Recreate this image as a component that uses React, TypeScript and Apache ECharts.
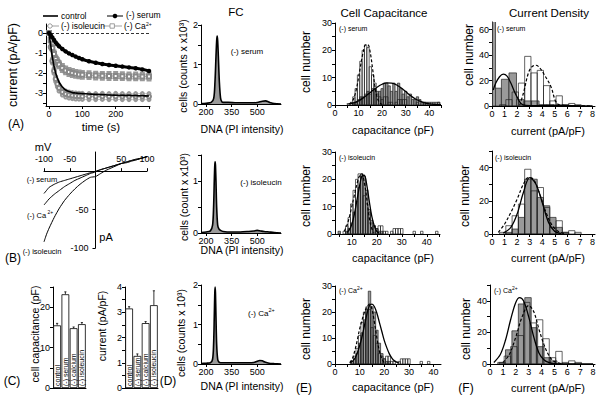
import React, { useEffect, useRef } from 'react';
import * as echarts from 'echarts';

const FONT = '"Liberation Sans", Arial, Helvetica, sans-serif';

// ---------- Panel A: current vs time ----------
const timeS = [0, 5, 10, 15, 20, 25, 30, 40, 50, 60, 70, 80, 90, 100, 120, 140, 160, 180, 200, 220, 240, 260, 280, 300];
const ctrlTrace = [0, -0.6, -1.2, -1.65, -2.0, -2.25, -2.45, -2.7, -2.85, -2.93, -2.98, -3.0, -3.02, -3.03, -3.05, -3.07, -3.08, -3.1, -3.11, -3.12, -3.12, -3.13, -3.14, -3.15];
const serumTrace = [0, -0.1, -0.22, -0.35, -0.47, -0.57, -0.66, -0.8, -0.92, -1.02, -1.1, -1.18, -1.25, -1.31, -1.41, -1.49, -1.55, -1.6, -1.64, -1.68, -1.72, -1.76, -1.82, -1.9];
const isoTrace = [0, -0.7, -1.4, -1.9, -2.3, -2.55, -2.75, -2.95, -3.05, -3.1, -3.13, -3.15, -3.16, -3.17, -3.18, -3.18, -3.17, -3.18, -3.17, -3.18, -3.18, -3.18, -3.18, -3.18];
const caTrace = [0, -0.35, -0.75, -1.05, -1.3, -1.45, -1.58, -1.75, -1.87, -1.95, -2.0, -2.04, -2.07, -2.09, -2.11, -2.13, -2.14, -2.15, -2.15, -2.16, -2.17, -2.17, -2.17, -2.18];
const isoSem = [0, 0.06, 0.1, 0.12, 0.13, 0.14, 0.15, 0.15, 0.15, 0.15, 0.15, 0.15, 0.15, 0.15, 0.15, 0.15, 0.15, 0.15, 0.15, 0.15, 0.15, 0.15, 0.15, 0.15];
const caSem = [0, 0.05, 0.08, 0.1, 0.1, 0.11, 0.11, 0.12, 0.12, 0.12, 0.12, 0.12, 0.12, 0.12, 0.12, 0.12, 0.12, 0.12, 0.12, 0.12, 0.12, 0.12, 0.12, 0.12];

// ---------- Panel B: I-V ----------
const ivVoltage = [-100, -95, -90, -80, -70, -60, -50, -40, -30, -20, -10, 0, 10, 20, 30, 40, 50, 60, 70, 80, 90, 100];
const ivSerum = [-29, -25, -21, -17, -14, -12, -10, -8, -6, -4, -2, 0, 2, 4, 6, 8, 10, 11, 13, 15, 17, 19];
const ivCa = [-44, -40, -36, -30, -25, -20, -16, -12, -9, -6, -3, -1, 2, 4, 6, 8, 10, 12, 14, 15, 17, 19];
const ivIso = [-92, -82, -74, -60, -48, -38, -30, -23, -17, -12, -8, -7, -3, 1, 4, 7, 10, 12, 14, 16, 17, 19];
const ivXLabels = [-100, -50, 50, 100];

// ---------- Panel C ----------
const groupNames = ['control', '(-) serum', '(-) calcium', '(-) isoleucin'];
const capMean = [15.5, 23.2, 14.8, 15.8];
const capErr = [0.5, 0.6, 0.3, 0.4];
const curMean = [3.15, 1.27, 2.57, 3.28];
const curErr = [0.07, 0.08, 0.06, 0.57];

// ---------- Panel D: FC ----------
const fcSerumX = [170, 200, 230, 245, 252, 258, 262, 265, 268, 272, 278, 285, 292, 300, 330, 380, 430, 470, 500, 530, 550, 565, 580, 600, 640];
const fcSerumY = [0.01, 0.02, 0.04, 0.15, 0.55, 1.2, 1.6, 1.72, 1.6, 1.2, 0.55, 0.15, 0.06, 0.04, 0.04, 0.03, 0.03, 0.03, 0.04, 0.07, 0.08, 0.06, 0.03, 0.01, 0];
const fcIsoX = [170, 200, 225, 238, 244, 248, 251, 253, 255, 258, 262, 268, 275, 285, 300, 350, 400, 450, 480, 500, 520, 540, 570, 600, 640];
const fcIsoY = [0.01, 0.02, 0.04, 0.15, 0.5, 1.0, 1.3, 1.37, 1.3, 1.0, 0.5, 0.15, 0.08, 0.05, 0.03, 0.02, 0.02, 0.03, 0.04, 0.05, 0.04, 0.03, 0.02, 0.01, 0];
const fcCaX = [170, 200, 225, 238, 244, 248, 251, 253, 255, 258, 262, 268, 275, 285, 300, 350, 400, 450, 480, 500, 515, 530, 545, 570, 600, 640];
const fcCaY = [0.01, 0.02, 0.03, 0.12, 0.5, 1.2, 1.8, 1.95, 1.8, 1.2, 0.5, 0.12, 0.05, 0.03, 0.03, 0.03, 0.03, 0.03, 0.04, 0.07, 0.09, 0.08, 0.05, 0.02, 0.01, 0];

// ---------- Panel E: capacitance histograms (1 pF bins, centres) ----------
const capBins = [5, 6, 7, 8, 9, 10, 11, 12, 13, 14, 15, 16, 17, 18, 19, 20, 21, 22, 23, 24, 25, 26, 27, 28, 29, 30, 31, 32, 33, 34, 35, 36, 37, 38, 39, 40, 41, 42, 43, 44];
const capControl = [0, 0, 1, 3, 6, 11, 16, 20, 22, 21, 14, 11, 8, 4, 3, 2, 3, 3, 1, 1, 0, 1, 2, 2, 2, 2, 0, 0, 0, 0, 1, 0, 0, 1, 0, 0, 0, 0, 0, 1];
const capSerum = [0, 0, 0, 1, 1, 2, 3, 3, 4, 5, 4, 6, 6, 5, 5, 6, 8, 8, 7, 5, 8, 5, 8, 6, 4, 5, 3, 4, 2, 2, 3, 2, 1, 1, 1, 1, 1, 1, 1, 1];
const capIso = [1, 0, 0, 1, 2, 4, 8, 12, 17, 22, 21, 16, 9, 5, 3, 2, 1, 1, 0, 0, 0, 0, 0, 0, 0, 0, 0, 0, 0, 0, 0, 0, 0, 0, 0, 0, 0, 0, 0, 0];
const capCa = [0, 0, 1, 2, 4, 8, 12, 17, 21, 28, 22, 20, 13, 8, 4, 2, 1, 1, 0, 0, 0, 0, 0, 0, 0, 0, 0, 0, 0, 0, 0, 0, 0, 0, 0, 0, 0, 0, 0, 0];
const fitCtrlE1X = [6, 7, 8, 9, 10, 11, 12, 13, 14, 15, 16, 17, 18, 19, 20];
const fitCtrlE1Y = [0.3, 1, 2.5, 5.5, 10, 15, 19.5, 22, 22, 19, 13, 6.5, 2.5, 0.8, 0.2];
const fitSerumEX = [5, 8, 10, 12, 14, 16, 18, 20, 22, 24, 26, 28, 30, 32, 34, 36, 38, 40, 42, 45];
const fitSerumEY = [0.3, 0.8, 1.5, 2.6, 3.9, 5.3, 6.6, 7.6, 8.1, 8.0, 7.4, 6.3, 4.9, 3.5, 2.3, 1.4, 0.8, 0.4, 0.2, 0.1];
const fitCtrlE2X = [7, 8, 9, 10, 11, 12, 13, 14, 15, 16, 17, 18, 19];
const fitCtrlE2Y = [1, 3, 6, 10, 14, 18, 21, 22, 19, 13, 6, 2, 0.5];
const fitIsoEX = [8, 9, 10, 11, 12, 13, 14, 15, 16, 17, 18, 19, 20, 21];
const fitIsoEY = [0.5, 1.5, 3.5, 7, 12, 17, 21, 21.5, 18, 12, 6.5, 3, 1, 0.3];
const fitCtrlE3X = [6, 7, 8, 9, 10, 11, 12, 13, 14, 15, 16, 17, 18, 19, 20];
const fitCtrlE3Y = [0.5, 2, 5, 9, 13.5, 17, 20, 22, 23, 21, 16, 10, 5, 2, 0.5];
const fitCaEX = [6, 8, 10, 12, 13, 14, 15, 16, 17, 18, 19, 20, 21, 22, 23, 24, 26];
const fitCaEY = [0.3, 2, 7, 15, 19.5, 22.5, 23, 22, 19.5, 16, 12.5, 9, 6.3, 4, 2.4, 1.3, 0.3];

// ---------- Panel F: current density histograms (0.5 pA/pF bins, left edges) ----------
const curBinLefts = [0.1, 0.6, 1.1, 1.6, 2.1, 2.6, 3.1, 3.6, 4.1, 4.6, 5.1, 5.6, 6.1, 6.6, 7.1];
const curControl = [0, 1, 5, 11, 18, 39, 26, 28, 16, 4, 8, 1, 2, 1, 0];
const curIso = [0, 0, 1, 3, 10, 33, 33, 22, 17, 10, 4, 1, 0, 0, 0];
const serumBinLefts = [0.15, 0.75, 1.35, 1.95, 2.55, 3.15, 3.75, 4.35];
const curSerum = [14, 21, 26, 5, 4, 4, 1, 1];
const serumZeroLeft = [0.03];
const serumZeroCount = [70];
const caBinLefts = [0.2, 0.7, 1.2, 1.7, 2.2, 2.7, 3.2, 3.7, 4.2, 4.7, 5.2];
const curCa = [0, 1, 9, 21, 38, 42, 23, 11, 4, 2, 0];
const fitSerumFX = [0.1, 0.3, 0.6, 0.9, 1.2, 1.5, 1.8, 2.0, 2.3, 2.7, 3.5, 4.5, 5.5, 6.5, 8];
const fitSerumFY = [12.6, 18, 23, 25, 23.5, 18, 11, 7, 2, 0.5, 0.3, 0.5, 0.6, 0.2, 0];
const fitCtrlF1X = [2.2, 2.5, 2.9, 3.2, 3.5, 3.8, 4.2, 4.7, 5.1, 5.5, 6, 7, 8];
const fitCtrlF1Y = [0.5, 10, 26, 31, 32, 30, 24, 15, 3, 0.5, 0.3, 0.1, 0];
const fitIsoFX = [0.9, 1.5, 2, 2.5, 3, 3.5, 4, 4.5, 5, 5.5];
const fitIsoFY = [0.5, 4, 12, 25, 34, 30, 19, 7, 1.5, 0.3];
const fitCtrlF2X = [0.5, 1, 1.5, 2, 2.5, 2.9, 3.3, 3.8, 4.3, 4.8, 5.3, 5.8];
const fitCtrlF2Y = [1, 6, 13, 21, 30, 34, 33, 24, 13, 5, 1.5, 0.3];
const fitCaFX = [0.3, 0.8, 1.2, 1.6, 2.0, 2.3, 2.6, 3.0, 3.4, 3.8, 4.2, 4.6, 5.0, 6, 8];
const fitCaFY = [1, 6, 15, 28, 39, 42, 40, 30, 17, 7, 2.5, 0.8, 0.2, 0, 0];
const fitCtrlF3X = [1, 1.5, 2, 2.5, 3, 3.4, 3.8, 4.2, 4.6, 5, 5.5];
const fitCtrlF3Y = [1, 6, 17, 30, 37, 33, 22, 12, 5, 1.5, 0.3];

// ---------- helpers ----------
const GRAY = '#9a9a9a';

function valAxis(gi: number, min: number, max: number, labels: number[], ticks: number[], extra: any = {}) {
  return {
    type: 'value', gridIndex: gi, min, max,
    axisLine: { show: true, onZero: false, lineStyle: { color: '#000', width: 1 } },
    axisTick: { show: true, length: 3, customValues: ticks, lineStyle: { color: '#000', width: 1 } },
    axisLabel: { show: true, customValues: labels, color: '#000', fontSize: 9, fontFamily: FONT, margin: 3, showMinLabel: true, showMaxLabel: true },
    splitLine: { show: false },
    ...extra,
  };
}

function catAxis(gi: number) {
  return {
    type: 'category', gridIndex: gi, data: groupNames,
    axisLine: { show: true, onZero: false, lineStyle: { color: '#000', width: 1 } },
    axisTick: { show: false }, axisLabel: { show: false }, splitLine: { show: false },
  };
}

function pairs(xs: number[], ys: number[]) {
  return xs.map((x, i) => [x, ys[i]]);
}

function curve(gi: number, xs: number[], ys: number[], o: any = {}) {
  return {
    type: 'line', xAxisIndex: gi, yAxisIndex: gi, data: pairs(xs, ys),
    symbol: 'none', smooth: o.smooth ?? 0.35, silent: true, clip: true, z: o.z ?? 5,
    lineStyle: { color: o.color || '#000', width: o.width ?? 1.3, type: o.dashed ? [3, 2] : 'solid' },
    areaStyle: o.area ? { color: o.area, opacity: 1 } : undefined,
  };
}

function hist(gi: number, lefts: number[], width: number, counts: number[], fill: string, z: number) {
  return {
    type: 'custom', xAxisIndex: gi, yAxisIndex: gi, z, clip: true, silent: true,
    data: lefts.map((l, i) => [l, counts[i], l + width]).filter((d) => d[1] > 0),
    encode: { x: [0, 2], y: 1 },
    renderItem: (params: any, api: any) => {
      const p0 = api.coord([api.value(0), 0]);
      const p1 = api.coord([api.value(2), api.value(1)]);
      return {
        type: 'rect',
        shape: { x: p0[0], y: p1[1], width: p1[0] - p0[0], height: p0[1] - p1[1] },
        style: { fill, stroke: '#222', lineWidth: 0.7 },
      };
    },
  };
}

function errBars(gi: number, means: number[], errs: number[]) {
  return {
    type: 'custom', xAxisIndex: gi, yAxisIndex: gi, z: 6, silent: true,
    data: means.map((m, i) => [i, m, m + errs[i]]),
    encode: { x: 0, y: [1, 2] },
    renderItem: (params: any, api: any) => {
      const i = api.value(0);
      const a = api.coord([i, api.value(1)]);
      const b = api.coord([i, api.value(2)]);
      const hw = api.size([1, 0])[0] * 0.13;
      return {
        type: 'group',
        children: [
          { type: 'line', shape: { x1: a[0], y1: a[1], x2: b[0], y2: b[1] }, style: { stroke: '#000', lineWidth: 0.8 } },
          { type: 'line', shape: { x1: b[0] - hw, y1: b[1], x2: b[0] + hw, y2: b[1] }, style: { stroke: '#000', lineWidth: 0.8 } },
        ],
      };
    },
  };
}

function txt(text: string, x: number, y: number, size: number, o: any = {}) {
  const align = o.align || 'center';
  const va = o.va || 'middle';
  return {
    type: 'text', x, y, rotation: o.rot ? Math.PI / 2 : 0, z: 100,
    style: {
      text, fill: '#000', font: `${size}px ${FONT}`, fontSize: size, fontFamily: FONT,
      align, verticalAlign: va, textAlign: align, textVerticalAlign: va,
    },
  };
}

export default function App() {
  const ref = useRef<HTMLDivElement>(null);

  useEffect(() => {
    if (!ref.current) return;
    const chart = echarts.init(ref.current, undefined, { renderer: 'svg' });

    const grids = [
      { left: 46, top: 24, width: 104, height: 82 },   // 0 A
      { left: 44, top: 152, width: 103, height: 96 },  // 1 B
      { left: 53, top: 287, width: 33, height: 101 },  // 2 C1
      { left: 125, top: 287, width: 33, height: 101 }, // 3 C2
      { left: 201, top: 25, width: 80, height: 79 },   // 4 D1
      { left: 201, top: 155, width: 80, height: 78 },  // 5 D2
      { left: 201, top: 285, width: 80, height: 79 },  // 6 D3
      { left: 335, top: 23, width: 106, height: 82 },  // 7 E1
      { left: 335, top: 152, width: 105, height: 82 }, // 8 E2
      { left: 335, top: 286, width: 106, height: 78 }, // 9 E3
      { left: 492, top: 22, width: 103, height: 84 },  // 10 F1
      { left: 492, top: 151, width: 103, height: 83 }, // 11 F2
      { left: 490, top: 285, width: 105, height: 79 }, // 12 F3
    ];

    // Panel B: axes cross at (0 mV, 0 pA); shift them into the plot by offset
    const bxMin = -100, bxMax = 100, byMin = -100, byMax = 25;
    const bG = grids[1];
    const bXAxisOffset = -(bG.height * (byMax - 0)) / (byMax - byMin);
    const bYAxisOffset = -(bG.width * (0 - bxMin)) / (bxMax - bxMin);
    const bAxisY = bG.top - bXAxisOffset;

    const dX = [200, 350, 500];
    const eTicks = [0, 5, 10, 15, 20, 25, 30, 35, 40, 45];
    const fX = [0, 1, 2, 3, 4, 5, 6, 7, 8];

    const xAxis: any[] = [
      valAxis(0, -9, 303, [0, 100, 200], [0, 100, 200, 300]),
      {
        type: 'value', gridIndex: 1, min: bxMin, max: bxMax, position: 'top', offset: bXAxisOffset,
        axisLine: { show: true, onZero: false, lineStyle: { color: '#000', width: 1 } },
        axisTick: { show: true, length: 3, customValues: [-100, -50, 0, 50, 100], lineStyle: { color: '#000' } },
        axisLabel: { show: false },
        splitLine: { show: false },
      },
      catAxis(2),
      catAxis(3),
      valAxis(4, 170, 640, dX, dX),
      valAxis(5, 170, 640, dX, dX),
      valAxis(6, 170, 640, dX, dX),
      valAxis(7, 0, 45, [0, 10, 20, 30, 40], eTicks),
      valAxis(8, 3.3, 45.3, [10, 20, 30, 40], [5, 10, 15, 20, 25, 30, 35, 40, 45]),
      valAxis(9, 0, 43, [0, 10, 20, 30, 40], [0, 5, 10, 15, 20, 25, 30, 35, 40]),
      valAxis(10, 0, 8.2, fX, fX),
      valAxis(11, 0, 8.2, fX, fX),
      valAxis(12, 0, 8.15, fX, fX),
    ];

    const yAxis: any[] = [
      valAxis(0, -3.65, 0.45, [-3, -2, -1, 0], [-3.5, -3, -2.5, -2, -1.5, -1, -0.5, 0]),
      {
        type: 'value', gridIndex: 1, min: byMin, max: byMax, position: 'left', offset: bYAxisOffset,
        axisLine: { show: true, onZero: false, lineStyle: { color: '#000', width: 1 } },
        axisTick: { show: true, length: 3, customValues: [-100, -50, 0], lineStyle: { color: '#000' } },
        axisLabel: { customValues: [-100, -50], color: '#000', fontSize: 9, fontFamily: FONT, margin: 7, showMinLabel: true, showMaxLabel: true, hideOverlap: false },
        splitLine: { show: false },
      },
      valAxis(2, 0, 25, [0, 10, 20], [0, 5, 10, 15, 20, 25]),
      valAxis(3, 0, 4, [0, 1, 2, 3, 4], [0, 0.5, 1, 1.5, 2, 2.5, 3, 3.5, 4]),
      valAxis(4, 0, 2, [0, 1, 2], [0, 0.5, 1, 1.5, 2]),
      valAxis(5, 0, 1.5, [0, 1], [0, 0.5, 1, 1.5]),
      valAxis(6, 0, 2, [0, 1, 2], [0, 0.5, 1, 1.5, 2]),
      valAxis(7, 0, 30, [0, 10, 20, 30], [0, 5, 10, 15, 20, 25, 30]),
      valAxis(8, 0, 30, [0, 10, 20, 30], [0, 5, 10, 15, 20, 25, 30]),
      valAxis(9, 0, 30, [0, 10, 20, 30], [0, 5, 10, 15, 20, 25, 30]),
      valAxis(10, 0, 66, [0, 20, 40, 60], [0, 10, 20, 30, 40, 50, 60]),
      valAxis(11, 0, 50, [0, 20, 40], [0, 10, 20, 30, 40, 50]),
      valAxis(12, 0, 50, [0, 20, 40], [0, 10, 20, 30, 40, 50]),
    ];

    const capCentersLeft = capBins.map((c) => c - 0.5);

    const series: any[] = [
      // ---- A ----
      {
        type: 'line', xAxisIndex: 0, yAxisIndex: 0, data: pairs(timeS, isoTrace.map((v, i) => v + isoSem[i])),
        symbol: 'emptyCircle', symbolSize: 3, smooth: 0.3, lineStyle: { color: '#999', width: 0.6 }, itemStyle: { color: '#999', borderWidth: 0.6 }, z: 2,
      },
      {
        type: 'line', xAxisIndex: 0, yAxisIndex: 0, data: pairs(timeS, isoTrace.map((v, i) => v - isoSem[i])),
        symbol: 'emptyCircle', symbolSize: 3, smooth: 0.3, lineStyle: { color: '#999', width: 0.6 }, itemStyle: { color: '#999', borderWidth: 0.6 }, z: 2,
      },
      {
        type: 'line', xAxisIndex: 0, yAxisIndex: 0, data: pairs(timeS, caTrace.map((v, i) => v + caSem[i])),
        symbol: 'emptyRect', symbolSize: 3, smooth: 0.3, lineStyle: { color: '#999', width: 0.6 }, itemStyle: { color: '#999', borderWidth: 0.6 }, z: 2,
      },
      {
        type: 'line', xAxisIndex: 0, yAxisIndex: 0, data: pairs(timeS, caTrace.map((v, i) => v - caSem[i])),
        symbol: 'emptyRect', symbolSize: 3, smooth: 0.3, lineStyle: { color: '#999', width: 0.6 }, itemStyle: { color: '#999', borderWidth: 0.6 }, z: 2,
      },
      {
        type: 'line', xAxisIndex: 0, yAxisIndex: 0, data: pairs(timeS, isoTrace),
        symbol: 'emptyCircle', symbolSize: 4, smooth: 0.3, lineStyle: { color: '#888', width: 0.8 }, itemStyle: { color: '#888', borderWidth: 0.8 }, z: 3,
      },
      {
        type: 'line', xAxisIndex: 0, yAxisIndex: 0, data: pairs(timeS, caTrace),
        symbol: 'emptyRect', symbolSize: 4, smooth: 0.3, lineStyle: { color: '#888', width: 0.8 }, itemStyle: { color: '#888', borderWidth: 0.8 }, z: 3,
      },
      {
        type: 'line', xAxisIndex: 0, yAxisIndex: 0, data: pairs(timeS, serumTrace),
        symbol: 'circle', symbolSize: 4.5, smooth: 0.3, lineStyle: { color: '#000', width: 3 }, itemStyle: { color: '#000' }, z: 4,
      },
      {
        type: 'line', xAxisIndex: 0, yAxisIndex: 0, data: pairs(timeS, ctrlTrace),
        symbol: 'none', smooth: 0.3, lineStyle: { color: '#000', width: 1.6 }, z: 5,
        markLine: {
          silent: true, symbol: 'none', label: { show: false },
          lineStyle: { type: [3, 2], color: '#000', width: 0.8 },
          data: [{ yAxis: 0 }],
        },
      },
      // ---- B ----
      curve(1, ivVoltage, ivSerum, { width: 1, smooth: 0.2 }),
      curve(1, ivVoltage, ivCa, { width: 1, smooth: 0.2 }),
      curve(1, ivVoltage, ivIso, { width: 1, smooth: 0.2 }),
      // ---- C ----
      {
        type: 'bar', xAxisIndex: 2, yAxisIndex: 2, data: capMean, barCategoryGap: '6%',
        itemStyle: { color: '#fff', borderColor: '#000', borderWidth: 0.8 },
        label: {
          show: true, position: 'insideBottom', rotate: 90, align: 'left', verticalAlign: 'middle', distance: 2,
          formatter: (p: any) => groupNames[p.dataIndex], fontSize: 7, fontFamily: FONT, color: '#000',
        },
      },
      errBars(2, capMean, capErr),
      {
        type: 'bar', xAxisIndex: 3, yAxisIndex: 3, data: curMean, barCategoryGap: '6%',
        itemStyle: { color: '#fff', borderColor: '#000', borderWidth: 0.8 },
        label: {
          show: true, position: 'insideBottom', rotate: 90, align: 'left', verticalAlign: 'middle', distance: 2,
          formatter: (p: any) => groupNames[p.dataIndex], fontSize: 7, fontFamily: FONT, color: '#000',
        },
      },
      errBars(3, curMean, curErr),
      // ---- D ----
      curve(4, fcSerumX, fcSerumY, { width: 1.6, smooth: 0.3, area: GRAY }),
      curve(5, fcIsoX, fcIsoY, { width: 1.6, smooth: 0.3, area: GRAY }),
      curve(6, fcCaX, fcCaY, { width: 1.6, smooth: 0.3, area: GRAY }),
      // ---- E ----
      hist(7, capCentersLeft, 1, capSerum, GRAY, 2),
      hist(7, capCentersLeft, 1, capControl, 'none', 3),
      curve(7, fitCtrlE1X, fitCtrlE1Y, { dashed: true, width: 1.2 }),
      curve(7, fitSerumEX, fitSerumEY, { width: 1.3 }),
      hist(8, capCentersLeft, 1, capIso, GRAY, 2),
      hist(8, capCentersLeft, 1, capControl, 'none', 3),
      curve(8, fitCtrlE2X, fitCtrlE2Y, { dashed: true, width: 1.2 }),
      curve(8, fitIsoEX, fitIsoEY, { width: 1.3 }),
      hist(9, capCentersLeft, 1, capCa, GRAY, 2),
      hist(9, capCentersLeft, 1, capControl, 'none', 3),
      curve(9, fitCtrlE3X, fitCtrlE3Y, { dashed: true, width: 1.2 }),
      curve(9, fitCaEX, fitCaEY, { width: 1.3 }),
      // ---- F ----
      hist(10, serumBinLefts, 0.6, curSerum, GRAY, 2),
      hist(10, serumZeroLeft, 0.25, serumZeroCount, GRAY, 2),
      hist(10, curBinLefts, 0.5, curControl, 'none', 3),
      curve(10, fitCtrlF1X, fitCtrlF1Y, { dashed: true, width: 1.2 }),
      curve(10, fitSerumFX, fitSerumFY, { width: 1.3 }),
      hist(11, curBinLefts, 0.5, curIso, GRAY, 2),
      hist(11, curBinLefts, 0.5, curControl, 'none', 3),
      curve(11, fitCtrlF2X, fitCtrlF2Y, { dashed: true, width: 1.2 }),
      curve(11, fitIsoFX, fitIsoFY, { width: 1.3 }),
      hist(12, caBinLefts, 0.5, curCa, GRAY, 2),
      hist(12, curBinLefts, 0.5, curControl, 'none', 3),
      curve(12, fitCtrlF3X, fitCtrlF3Y, { dashed: true, width: 1.2 }),
      curve(12, fitCaFX, fitCaFY, { width: 1.3 }),
    ];

    // Panel B x tick labels, placed above the crossing axis line
    const bXLabelTexts = ivXLabels.map((v) =>
      txt(String(v), bG.left + (bG.width * (v - bxMin)) / (bxMax - bxMin), bAxisY - 12, 9),
    );

    const graphic: any[] = [
      // Panel A legend and titles
      { type: 'line', shape: { x1: 43, y1: 16, x2: 58, y2: 16 }, style: { stroke: '#000', lineWidth: 1.6 } },
      txt('control', 61, 16, 8.5, { align: 'left' }),
      { type: 'line', shape: { x1: 107, y1: 16, x2: 123, y2: 16 }, style: { stroke: '#000', lineWidth: 1 } },
      { type: 'circle', shape: { cx: 115, cy: 16, r: 2.3 }, style: { fill: '#000' } },
      txt('(-) serum', 126, 15, 8.5, { align: 'left' }),
      { type: 'line', shape: { x1: 46, y1: 26, x2: 59, y2: 26 }, style: { stroke: '#888', lineWidth: 0.8 } },
      { type: 'circle', shape: { cx: 50, cy: 26, r: 2.2 }, style: { fill: '#fff', stroke: '#888', lineWidth: 0.8 } },
      txt('(-) isoleucin', 61, 26, 8.5, { align: 'left' }),
      { type: 'line', shape: { x1: 103, y1: 26, x2: 122, y2: 26 }, style: { stroke: '#888', lineWidth: 0.8 } },
      { type: 'rect', shape: { x: 110, y: 23.8, width: 4.4, height: 4.4 }, style: { fill: '#fff', stroke: '#888', lineWidth: 0.8 } },
      txt('(-) Ca', 124, 26, 8.5, { align: 'left' }),
      txt('2+', 146, 23.5, 5, { align: 'left' }),
      txt('current (pA/pF)', 13, 65, 12.5, { rot: true }),
      txt('time (s)', 101, 127, 11.5),
      txt('(A)', 16, 124, 12),
      // Panel B
      ...bXLabelTexts,
      txt('mV', 43, 147, 11),
      txt('pA', 106, 237, 11),
      txt('(-) serum', 42, 179, 7.5),
      txt('(-) Ca', 27, 215, 7.5, { align: 'left' }),
      txt('2+', 47.5, 212, 5, { align: 'left' }),
      txt('(-) isoleucin', 42, 251, 7.5),
      txt('(B)', 13, 258, 12),
      // Panel C
      txt('cell capacitance (pF)', 35, 334, 10.5, { rot: true }),
      txt('current (pA/pF)', 102, 326, 10.5, { rot: true }),
      txt('(C)', 12, 381, 12),
      // Panel D
      txt('FC', 236, 12, 11.5),
      txt('cells (counts x x10³)', 183, 66, 10.5, { rot: true }),
      txt('cells (count x x10³)', 184, 197, 10.5, { rot: true }),
      txt('cells (counts x 10³)', 181, 333, 10.5, { rot: true }),
      txt('DNA (PI intensity)', 242, 129, 10.5),
      txt('DNA (PI intensity)', 242, 250, 10.5),
      txt('DNA (PI intensity)', 242, 386, 10.5),
      txt('(-) serum', 247, 51, 8),
      txt('(-) isoleucin', 261, 182, 8),
      txt('(-) Ca', 248, 313, 8, { align: 'left' }),
      txt('2+', 268.5, 310, 5.5, { align: 'left' }),
      txt('(D)', 168, 381, 12),
      // Panel E
      txt('Cell Capacitance', 384, 13, 11.5),
      txt('cell number', 306, 62, 12, { rot: true }),
      txt('cell number', 306, 196, 12, { rot: true }),
      txt('cell number', 306, 329, 12, { rot: true }),
      txt('capacitance (pF)', 393, 130, 11),
      txt('capacitance (pF)', 393, 258, 11),
      txt('capacitance (pF)', 393, 387, 11),
      txt('(-) serum', 339, 28, 7, { align: 'left' }),
      txt('(-) isoleucin', 339, 157, 7, { align: 'left' }),
      txt('(-) Ca', 339, 290, 7, { align: 'left' }),
      txt('2+', 357, 288, 5, { align: 'left' }),
      txt('(E)', 304, 388, 12),
      // Panel F
      txt('Current Density', 549, 13, 11.5),
      txt('cell number', 469, 55, 12, { rot: true }),
      txt('cell number', 465, 196, 12, { rot: true }),
      txt('cell number', 466, 329, 12, { rot: true }),
      txt('current (pA/pF)', 548, 131, 11),
      txt('current (pA/pF)', 548, 258, 11),
      txt('current (pA/pF)', 548, 388, 11),
      txt('(-) serum', 497, 28, 7, { align: 'left' }),
      txt('(-) isoleucin', 495, 157, 7, { align: 'left' }),
      txt('(-) Ca', 494, 290, 7, { align: 'left' }),
      txt('2+', 512, 288, 5, { align: 'left' }),
      txt('(F)', 466, 388, 12),
    ];

    chart.setOption({
      animation: false,
      backgroundColor: '#fff',
      textStyle: { fontFamily: FONT },
      grid: grids.map((g) => ({ ...g, containLabel: false })),
      xAxis,
      yAxis,
      series,
      graphic,
    });

    return () => {
      chart.dispose();
    };
  }, []);

  return (
    <div
      ref={ref}
      style={{ position: 'fixed', left: 0, top: 0, width: 604, height: 403, background: '#fff' }}
    />
  );
}
